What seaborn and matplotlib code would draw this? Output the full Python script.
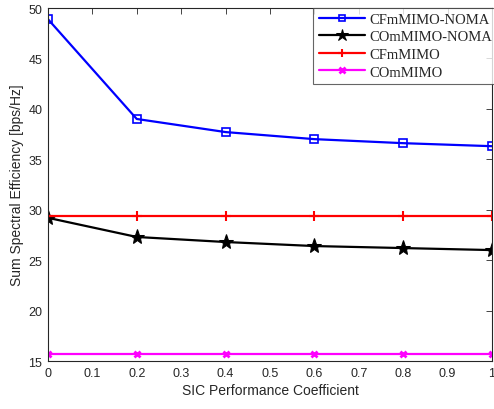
import matplotlib
matplotlib.use("Agg")
import matplotlib.pyplot as plt
import numpy as np
import pandas as pd
import seaborn as sns

# data
sic = [0, 0.2, 0.4, 0.6, 0.8, 1.0]
cf_noma = [48.9, 39.0, 37.7, 37.0, 36.6, 36.3]
co_noma = [29.2, 27.3, 26.8, 26.4, 26.2, 26.0]
cf_mimo = [29.4, 29.4, 29.4, 29.4, 29.4, 29.4]
co_mimo = [15.7, 15.7, 15.7, 15.7, 15.7, 15.7]
names = ['CFmMIMO-NOMA', 'COmMIMO-NOMA', 'CFmMIMO', 'COmMIMO']

sns.set_style("white")
plt.rcParams['font.family'] = ['Liberation Sans', 'DejaVu Sans']

df = pd.DataFrame({'x': sic * 4,
                   'y': cf_noma + co_noma + cf_mimo + co_mimo,
                   'scheme': np.repeat(names, len(sic))})

colors = ['#0000ff', '#000000', '#ff0000', '#ff00ff']
markers = ['s', '*', '+', 'X']

fig = plt.figure(figsize=(4.94, 4.10), dpi=100)
ax = fig.add_axes([0.097, 0.117, 0.899, 0.861])

for name, c, m in zip(names, colors, markers):
    sub = df[df['scheme'] == name]
    kw = dict(color=c, marker=m, linewidth=1.6, label=name)
    if m == 's':
        kw.update(markersize=6, markerfacecolor='none', markeredgecolor=c, markeredgewidth=1.2)
    elif m == '*':
        kw.update(markersize=11, markerfacecolor=c, markeredgecolor=c)
    elif m == '+':
        kw.update(markersize=7, markeredgewidth=1.5, markeredgecolor=c)
    else:
        kw.update(marker='x', markersize=5, markeredgewidth=2, markeredgecolor=c)
    sns.lineplot(data=sub, x='x', y='y', ax=ax, **kw)

ax.set_xlim(0, 1)
ax.set_ylim(15, 50)
ax.set_xticks(np.arange(0, 1.01, 0.1))
ax.set_xticklabels(['0', '0.1', '0.2', '0.3', '0.4', '0.5', '0.6', '0.7', '0.8', '0.9', '1'])
ax.set_yticks(np.arange(15, 51, 5))
ax.tick_params(direction='in', top=True, right=True, length=4, width=0.6,
               labelsize=9, colors='#262626', pad=4)
for s in ax.spines.values():
    s.set_linewidth(0.8)
    s.set_color('#262626')
    s.set_visible(True)

ax.set_xlabel('SIC Performance Coefficient', fontsize=10, color='#262626', labelpad=3)
ax.set_ylabel('Sum Spectral Efficiency [bps/Hz]', fontsize=10, color='#262626', labelpad=3)

leg = ax.legend(loc='upper right', bbox_to_anchor=(1.022, 0.997), bbox_transform=fig.transFigure,
                prop={'family': 'Liberation Serif', 'size': 10.5},
                frameon=True, fancybox=False, edgecolor='#404040',
                handlelength=3.2, borderpad=0.35, labelspacing=0.3, handletextpad=0.3,
                markerscale=0.8)
leg.get_frame().set_linewidth(0.8)

fig.savefig('out.png', dpi=100)
